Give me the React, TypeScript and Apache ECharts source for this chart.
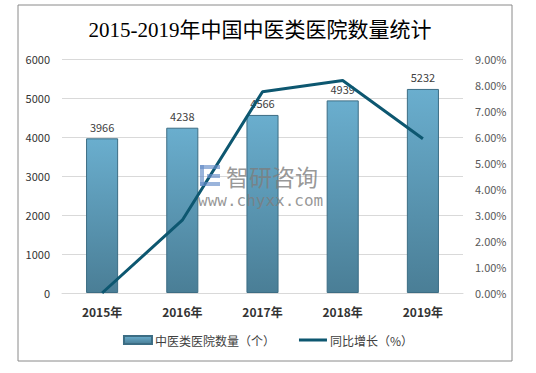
import React, { useEffect, useRef } from "react";
import * as echarts from "echarts";

const categories = ["2015年", "2016年", "2017年", "2018年", "2019年"];
const hospitalCounts = [3966, 4238, 4566, 4939, 5232];
const growthRates = [0, 2.8, 7.74, 8.17, 5.93];
const titleText = "2015-2019年中国中医类医院数量统计";
const barName = "中医类医院数量（个）";
const lineName = "同比增长（%）";

export default function App() {
  const ref = useRef<HTMLDivElement>(null);
  useEffect(() => {
    document.body.style.margin = "0";
    const chart = echarts.init(ref.current!, null, { renderer: "svg" });
    const sans = "'Microsoft YaHei', 'Noto Sans CJK SC', 'Noto Sans', sans-serif";
    const wm = "rgba(125,125,125,0.8)";
    const logo = "rgba(100,140,200,0.65)";
    chart.setOption({
      animation: false,
      textStyle: { fontFamily: sans },
      grid: { left: 62, right: 73, top: 59, bottom: 80 },
      legend: {
        bottom: 22,
        left: "center",
        itemGap: 24,
        itemWidth: 28,
        itemHeight: 8,
        textStyle: { fontSize: 12, color: "#404040", fontFamily: sans, padding: [0, 0, 0, -2] },
        data: [
          { name: barName, icon: "rect" },
          {
            name: lineName,
            icon: "path://M0,0 L0.05,0 L0.05,0.05 Z M0,2.5 L28,2.5 L28,5.5 L0,5.5 Z M27.95,7.95 L28,7.95 L28,8 Z",
          },
        ],
      },
      xAxis: {
        type: "category",
        data: categories,
        axisLine: { lineStyle: { color: "#d9d9d9" } },
        axisTick: { show: false },
        axisLabel: { color: "#333", fontSize: 12, fontWeight: "bold", margin: 12 },
      },
      yAxis: [
        {
          type: "value",
          min: 0,
          max: 6000,
          interval: 1000,
          axisLine: { show: false },
          axisTick: { show: false },
          axisLabel: { color: "#333", fontSize: 11, margin: 12, formatter: (v: number) => String(v) },
          splitLine: { lineStyle: { color: "#d9d9d9" } },
        },
        {
          type: "value",
          min: 0,
          max: 9,
          interval: 1,
          axisLine: { show: false },
          axisTick: { show: false },
          axisLabel: {
            color: "#595959",
            fontSize: 11,
            margin: 12,
            formatter: (v: number) => v.toFixed(2) + "%",
          },
          splitLine: { show: false },
        },
      ],
      series: [
        {
          name: barName,
          type: "bar",
          data: hospitalCounts,
          barWidth: "40%",
          itemStyle: {
            color: new echarts.graphic.LinearGradient(0, 0, 0, 1, [
              { offset: 0, color: "#6aaece" },
              { offset: 1, color: "#4a7e96" },
            ]),
            borderColor: "#3c6d84",
            borderWidth: 1,
          },
          label: {
            show: true,
            position: "top",
            distance: 6,
            color: "#404040",
            fontSize: 11,
          },
        },
        {
          name: lineName,
          type: "line",
          yAxisIndex: 1,
          data: growthRates,
          symbol: "none",
          smooth: false,
          lineStyle: { color: "#0d5770", width: 3 },
          itemStyle: { color: "#0d5770" },
          z: 3,
        },
      ],
      graphic: [
        {
          type: "rect",
          shape: { x: 18, y: 5, width: 494, height: 356 },
          style: { fill: "none", stroke: "#8a8a8a", lineWidth: 1 },
          silent: true,
        },
        {
          type: "text",
          x: 260,
          y: 30,
          style: {
            text: titleText,
            fontSize: 21,
            fontFamily: "'Liberation Serif', 'Noto Sans CJK SC', serif",
            fill: "#000",
            textAlign: "center",
            textVerticalAlign: "middle",
          },
        },
        { type: "rect", z: 100, silent: true, shape: { x: 200, y: 165, width: 20, height: 4 }, style: { fill: logo } },
        { type: "rect", z: 100, silent: true, shape: { x: 200, y: 165, width: 4, height: 21 }, style: { fill: logo } },
        { type: "rect", z: 100, silent: true, shape: { x: 207, y: 174, width: 13, height: 4 }, style: { fill: logo } },
        { type: "rect", z: 100, silent: true, shape: { x: 200, y: 182, width: 20, height: 4 }, style: { fill: logo } },
        {
          type: "text",
          z: 100,
          silent: true,
          x: 226,
          y: 176,
          style: {
            text: "智研咨询",
            fontSize: 23,
            fill: wm,
            fontFamily: sans,
            textVerticalAlign: "middle",
          },
        },
        {
          type: "text",
          z: 100,
          silent: true,
          x: 198,
          y: 200,
          style: {
            text: "www.chyxx.com",
            fontSize: 16,
            fill: wm,
            fontFamily: "'DejaVu Sans Mono', monospace",
            textVerticalAlign: "middle",
          },
        },
      ],
    });
    return () => chart.dispose();
  }, []);
  return <div ref={ref} style={{ width: 536, height: 373 }} />;
}
